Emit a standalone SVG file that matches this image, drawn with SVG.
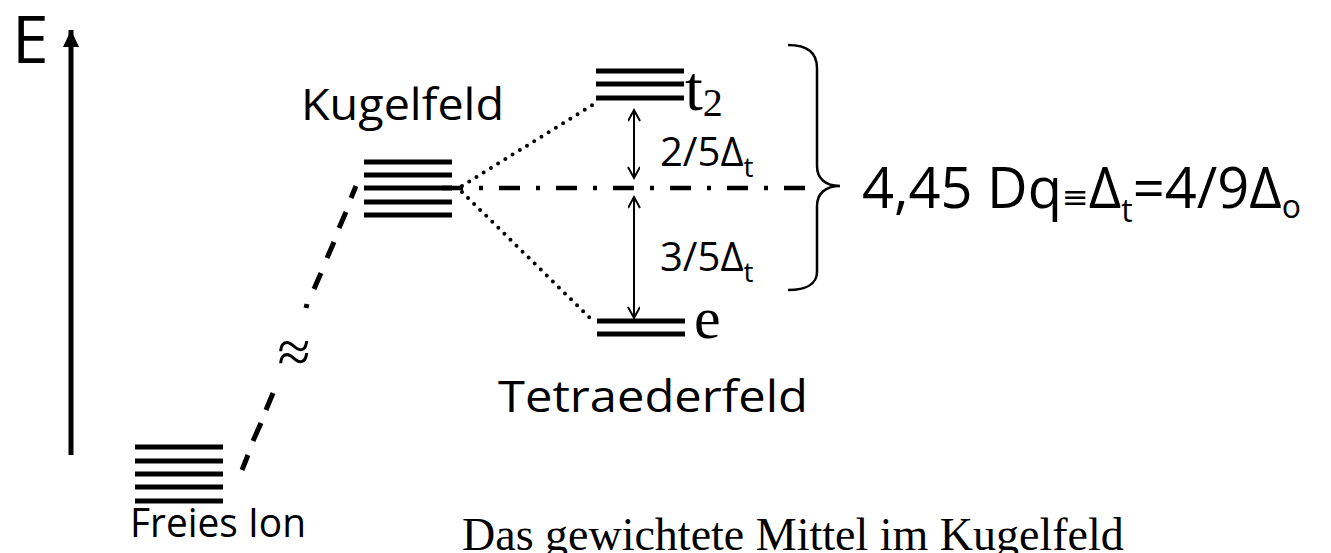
<svg xmlns="http://www.w3.org/2000/svg" width="1331" height="553" viewBox="0 0 1331 553">
<defs>
<style>
.lvl{stroke:#000;stroke-width:5;fill:none}
.sans{font-family:"Open Sans","DejaVu Sans",sans-serif;fill:#000}
.serif{font-family:"Liberation Serif","Times New Roman",serif;fill:#000}
.dot{stroke:#000;stroke-width:4;stroke-linecap:round;stroke-dasharray:0 8.5;fill:none}
.dash{stroke:#000;stroke-width:5;fill:none}
.dd{stroke:#000;stroke-width:4.5;stroke-dasharray:21 16 4 16;fill:none}
</style>
<marker id="ah" markerWidth="16" markerHeight="16" refX="12" refY="6" orient="auto-start-reverse" markerUnits="userSpaceOnUse">
<path d="M1,0 L12,6 L1,12" fill="none" stroke="#000" stroke-width="2"/>
</marker>
<marker id="bigah" markerWidth="24" markerHeight="24" refX="17" refY="8" orient="auto" markerUnits="userSpaceOnUse">
<path d="M0,0 L17,8 L0,16 Z" fill="#000"/>
</marker>
</defs>

<g id="axis">
<text class="sans" x="12" y="63" font-size="66">E</text>
<line x1="71" y1="455" x2="71" y2="30" stroke="#000" stroke-width="5" marker-end="url(#bigah)"/>
</g>

<g id="freies-ion">
<path class="lvl" d="M135,447H223M135,461H223M135,474H223M135,487H223M135,501H223"/>
<text class="sans" x="130" y="537" font-size="40" textLength="176" lengthAdjust="spacingAndGlyphs">Freies Ion</text>
</g>

<g id="kugelfeld">
<path class="lvl" d="M364,162H452M364,175H452M364,188H452M364,202H452M364,215H452"/>
<text class="sans" x="301" y="120" font-size="44" textLength="203" lengthAdjust="spacingAndGlyphs">Kugelfeld</text>
</g>

<g id="t2">
<path class="lvl" d="M596,71H684M596,84H684M596,98H684"/>
<text class="serif" x="685" y="110" font-size="64">t<tspan font-size="40" dy="6">2</tspan></text>
</g>

<g id="e-level">
<path class="lvl" d="M597,321H685M597,334H685"/>
<text class="serif" x="694" y="338" font-size="60">e</text>
</g>

<g id="tetraederfeld">
<text class="sans" x="498" y="412" font-size="44" textLength="310" lengthAdjust="spacingAndGlyphs">Tetraederfeld</text>
</g>

<g id="splitting">
<text class="sans" x="660" y="166" font-size="40">2/5Δ<tspan font-size="28" dy="11">t</tspan></text>
<text class="sans" x="660" y="271" font-size="40">3/5Δ<tspan font-size="28" dy="11">t</tspan></text>
<path d="M788,45 C806,45 817,52 817,68 L817,166 C817,178 825,186 840,186 C825,186 817,194 817,206 L817,272 C817,284 806,290 788,290" fill="none" stroke="#000" stroke-width="2.5"/>
</g>

<g id="formula">
<text class="sans" x="862" y="208" font-size="56">4,45 Dq<tspan font-size="32">≡</tspan>Δ<tspan font-size="32" dy="14">t</tspan><tspan dy="-14">=4/9Δ</tspan><tspan font-size="32" dy="10">o</tspan></text>
</g>

<g id="note">
<text class="serif" x="462" y="550" font-size="46">Das gewichtete Mittel im Kugelfeld</text>
</g>

<g id="connectors">
<path class="dash" d="M242,470L248,455M253,441L261,423M266,410L273,393M306,308L307,304M314,289L321,273M327,258L334,242M339,228L346,212M351,198L356,186"/>
<text class="serif" x="294" y="372" font-size="60" text-anchor="middle">≈</text>
<line class="dot" x1="462" y1="186" x2="594" y2="104"/>
<line class="dot" x1="462" y1="192" x2="594" y2="322"/>
<line class="dd" x1="442" y1="188" x2="806" y2="188"/>
<line x1="634" y1="110" x2="634" y2="178" stroke="#000" stroke-width="2" marker-start="url(#ah)" marker-end="url(#ah)"/>
<line x1="634" y1="197" x2="634" y2="318" stroke="#000" stroke-width="2" marker-start="url(#ah)" marker-end="url(#ah)"/>
</g>
</svg>
